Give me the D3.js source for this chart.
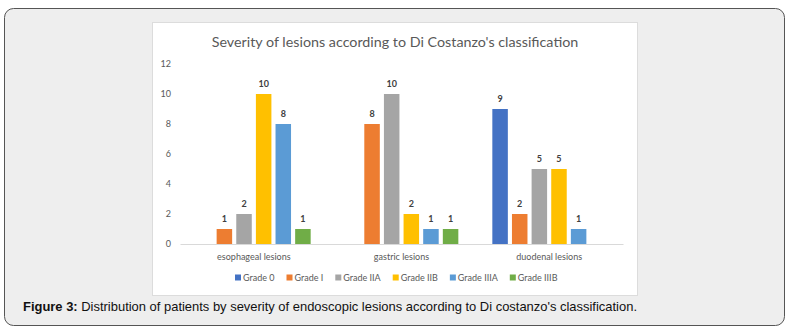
<!DOCTYPE html>
<html>
<head>
<meta charset="utf-8">
<script src="https://cdn.jsdelivr.net/npm/d3@7"></script>
<style>
  body { margin: 0; background: #fff; }
  svg { display: block; }
</style>
</head>
<body>
<div id="chart"></div>
<script>
// data
const categories = ['esophageal lesions', 'gastric lesions', 'duodenal lesions'];
const grades = ['Grade 0', 'Grade I', 'Grade IIA', 'Grade IIB', 'Grade IIIA', 'Grade IIIB'];
const gradeColors = ['#4472C4', '#ED7D31', '#A5A5A5', '#FFC000', '#5B9BD5', '#70AD47'];
const esophageal = [0, 1, 2, 10, 8, 1];
const gastric = [0, 8, 10, 2, 1, 1];
const duodenal = [9, 2, 5, 5, 1, 0];
const yTicks = [0, 2, 4, 6, 8, 10, 12];
const series = [esophageal, gastric, duodenal];

const w = 790, h = 334;
const svg = d3.select('#chart').append('svg')
  .attr('width', w).attr('height', h);

// outer grey frame
svg.append('rect')
  .attr('x', 4.5).attr('y', 8.5)
  .attr('width', 780).attr('height', 317)
  .attr('rx', 9)
  .attr('fill', '#eeeeee')
  .attr('stroke', '#555')
  .attr('stroke-width', 1);

// white chart panel
svg.append('rect')
  .attr('x', 152.5).attr('y', 22.5)
  .attr('width', 485).attr('height', 273)
  .attr('fill', '#fff')
  .attr('stroke', '#dcdcdc');

const font = 'Lato, "Open Sans", sans-serif';

svg.append('text')
  .attr('x', 395).attr('y', 47)
  .attr('text-anchor', 'middle')
  .attr('font-family', font)
  .attr('font-size', 14.3)
  .attr('fill', '#595959')
  .text("Severity of lesions according to Di Costanzo's classification");

const x0 = d3.scaleBand().domain(categories).range([180, 623]);
const x1 = d3.scaleBand().domain(grades).range([17, x0.bandwidth() - 17]).paddingInner(0.21);
const y = d3.scaleLinear().domain([0, 12]).range([244, 64]);

// y axis labels
const yAxis = d3.axisLeft(y).tickValues(yTicks).tickSize(0).tickPadding(0);
const ya = svg.append('g').attr('transform', 'translate(171,0)').call(yAxis);
ya.select('.domain').remove();
ya.selectAll('text')
  .attr('font-family', font).attr('font-size', 9).attr('fill', '#595959');

// bars
const groups = svg.append('g').selectAll('g')
  .data(categories).enter().append('g')
  .attr('transform', d => `translate(${x0(d)},0)`);

groups.each(function(cat, ci) {
  const vals = series[ci].map((v, i) => ({ grade: grades[i], v, c: gradeColors[i] }))
    .filter(d => d.v > 0);
  const g = d3.select(this);
  g.selectAll('rect').data(vals).enter().append('rect')
    .attr('x', d => x1(d.grade))
    .attr('width', x1.bandwidth())
    .attr('y', d => y(d.v))
    .attr('height', d => y(0) - y(d.v))
    .attr('fill', d => d.c);
  g.selectAll('text').data(vals).enter().append('text')
    .attr('x', d => x1(d.grade) + x1.bandwidth() / 2)
    .attr('y', d => y(d.v) - 7)
    .attr('text-anchor', 'middle')
    .attr('font-family', font).attr('font-size', 9).attr('font-weight', 'bold')
    .attr('fill', '#404040')
    .text(d => d.v);
});

// baseline + category labels
const xAxis = d3.axisBottom(x0).tickSize(0).tickPadding(10);
const xa = svg.append('g').attr('transform', `translate(0,${y(0)})`).call(xAxis);
xa.select('.domain').attr('stroke', '#d9d9d9');
xa.selectAll('text')
  .attr('font-family', font).attr('font-size', 9).attr('fill', '#595959');

// legend
const legend = svg.append('g').attr('transform', 'translate(235,278)');
let lx = 0;
grades.forEach((gname, i) => {
  legend.append('rect')
    .attr('x', lx).attr('y', -3.5).attr('width', 6).attr('height', 6)
    .attr('fill', gradeColors[i]);
  const t = legend.append('text')
    .attr('x', lx + 8).attr('y', 3)
    .attr('font-family', font).attr('font-size', 9).attr('fill', '#595959')
    .text(gname);
  lx += 8 + t.node().getComputedTextLength() + 12;
});

// caption
const cap = svg.append('text')
  .attr('x', 23).attr('y', 311)
  .attr('font-family', '"Liberation Sans", Arial, sans-serif')
  .attr('font-size', 13)
  .attr('fill', '#111')
  .attr('textLength', 614)
  .attr('lengthAdjust', 'spacingAndGlyphs');
cap.append('tspan').attr('font-weight', 'bold').text('Figure 3:');
cap.append('tspan').text(" Distribution of patients by severity of endoscopic lesions according to Di costanzo's classification.");
</script>
</body>
</html>
